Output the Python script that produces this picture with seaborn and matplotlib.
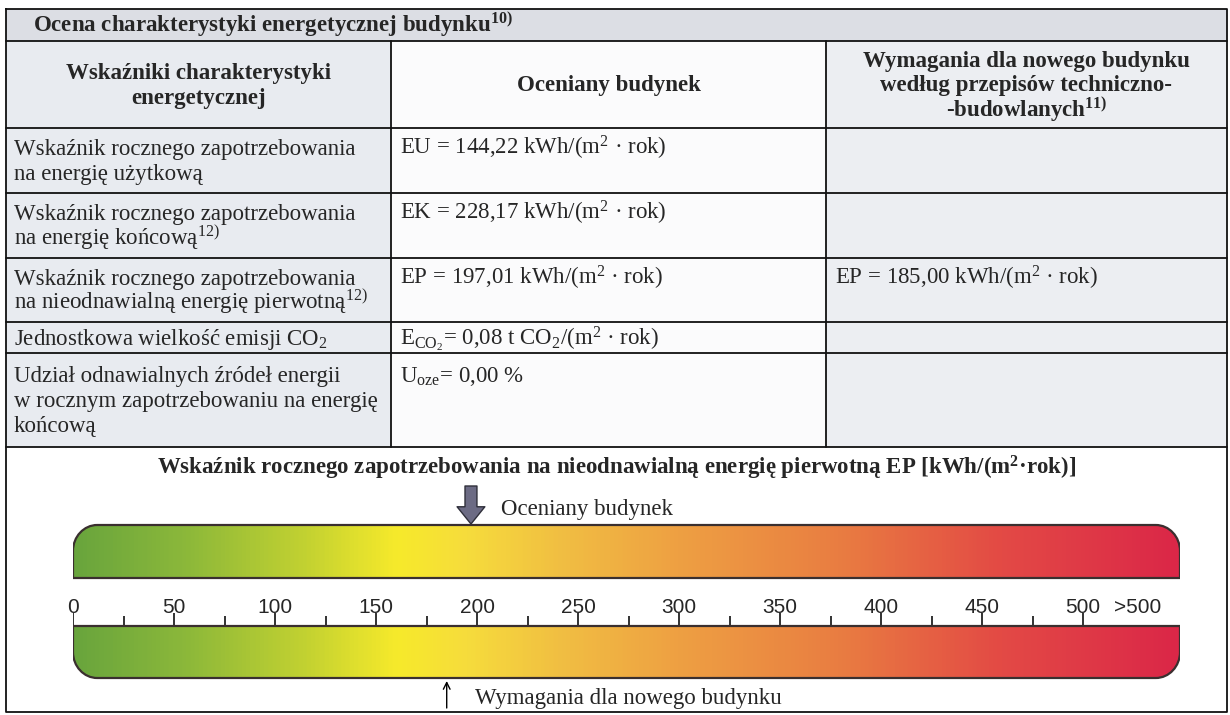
import numpy as np
import matplotlib.pyplot as plt
import seaborn as sns
from matplotlib.colors import LinearSegmentedColormap, Normalize
from matplotlib.path import Path
from matplotlib.patches import PathPatch, Rectangle

sns.set_theme(style="white")
plt.rcParams['font.family'] = ['Liberation Serif', 'DejaVu Serif']
plt.rcParams['mathtext.fontset'] = 'custom'
plt.rcParams['mathtext.rm'] = 'Liberation Serif'
plt.rcParams['mathtext.it'] = 'Liberation Serif:italic'
plt.rcParams['mathtext.bf'] = 'Liberation Serif:bold'

# ---- data ----
ep_assessed = 197.01
ep_required = 185.00
eu_value = 144.22
ek_value = 228.17
eco2_value = 0.08
uoze_value = 0.00

title = r"Ocena charakterystyki energetycznej budynku$^{\mathbf{10)}}$"
headers = ["Wskaźniki charakterystyki\nenergetycznej",
           "Oceniany budynek",
           "Wymagania dla nowego budynku\nwedług przepisów techniczno-\n-budowlanych$^{\\mathbf{11)}}$"]
indicators = ["Wskaźnik rocznego zapotrzebowania\nna energię użytkową",
              "Wskaźnik rocznego zapotrzebowania\nna energię końcową$^{12)}$",
              "Wskaźnik rocznego zapotrzebowania\nna nieodnawialną energię pierwotną$^{12)}$",
              "Jednostkowa wielkość emisji CO$_2$",
              "Udział odnawialnych źródeł energii\nw rocznym zapotrzebowaniu na energię\nkońcową"]


def pl(v):
    return f"{v:.2f}".replace(".", ",")


assessed = [f"EU = {pl(eu_value)} kWh/(m$^2$ · rok)",
            f"EK = {pl(ek_value)} kWh/(m$^2$ · rok)",
            f"EP = {pl(ep_assessed)} kWh/(m$^2$ · rok)",
            f"E$_{{\\mathrm{{CO_2}}}}$= {pl(eco2_value)} t CO$_2$/(m$^2$ · rok)",
            f"U$_{{\\mathrm{{oze}}}}$= {pl(uoze_value)} %"]
required = ["", "", f"EP = {pl(ep_required)} kWh/(m$^2$ · rok)", "", ""]

scale_title = "Wskaźnik rocznego zapotrzebowania na nieodnawialną energię pierwotną EP [kWh/(m$^{\\mathbf{2}}$·rok)]"
major_ticks = [0, 50, 100, 150, 200, 250, 300, 350, 400, 450, 500]
minor_ticks = [25, 75, 125, 175, 225, 275, 325, 375, 425, 475]
over_label = ">500"
over_pos = 527
scale_end = 548
grad_pos = [0, 55, 115, 160, 195, 240, 300, 380, 460, 548]
grad_col = ['#69a53d', '#8cb83a', '#c3d231', '#f7ea2b', '#f6dc3c',
            '#f1bf42', '#eea043', '#e97d41', '#e34a45', '#db2748']

# ---- layout (pixels) ----
W, H = 1230, 715
col_x = [6, 391, 826, 1227]
top, title_bot, head_bot = 9, 41, 128
row_y = [128, 193, 258, 322, 353, 447]
bottom = 712
fs = 16.5
pitch = 25
base_off = 7

fig = plt.figure(figsize=(12.3, 7.15), dpi=100)
ax = fig.add_axes([0, 0, 1, 1])
ax.set_xlim(0, W)
ax.set_ylim(H, 0)
ax.axis('off')

# cell backgrounds
ax.add_patch(Rectangle((col_x[0], top), col_x[3] - col_x[0], title_bot - top, fc='#dcdee4', ec='none'))
bg = ['#e8ebf0', '#fbfbfc', '#eceef2']
for j in range(3):
    ax.add_patch(Rectangle((col_x[j], title_bot), col_x[j + 1] - col_x[j], row_y[-1] - title_bot,
                           fc=bg[j], ec='none'))

lw = 1.3
ax.plot([col_x[0], col_x[3], col_x[3], col_x[0], col_x[0]], [top, top, bottom, bottom, top], color='#111', lw=lw)
for y in [title_bot] + row_y:
    ax.plot([col_x[0], col_x[3]], [y, y], color='#111', lw=lw)
for x in col_x[1:3]:
    ax.plot([x, x], [title_bot, row_y[-1]], color='#111', lw=lw)


def block(x, y_center, s, ha='left', bold=False):
    lines = s.split("\n")
    n = len(lines)
    for k, line in enumerate(lines):
        yc = y_center - (n - 1) / 2 * pitch + k * pitch
        ax.text(x, yc + base_off, line, fontsize=fs, ha=ha, va='baseline',
                fontweight='bold' if bold else 'normal')
    return y_center - (n - 1) / 2 * pitch


ax.text(33, (top + title_bot) / 2 + base_off, title, fontsize=fs, fontweight='bold', va='baseline', ha='left')
for j, h in enumerate(headers):
    block((col_x[j] + col_x[j + 1]) / 2, (title_bot + head_bot) / 2, h, ha='center', bold=True)
for i in range(len(indicators)):
    rc = (row_y[i] + row_y[i + 1]) / 2
    first = block(col_x[0] + 8, rc, indicators[i])
    ax.text(col_x[1] + 9, first + base_off, assessed[i], fontsize=fs, va='baseline', ha='left')
    ax.text(col_x[2] + 9, first + base_off, required[i], fontsize=fs, va='baseline', ha='left')

ax.text((col_x[0] + col_x[3]) / 2, 467 + base_off, scale_title, fontsize=fs, fontweight='bold',
        ha='center', va='baseline')

# ---- scale ----
sx0, sx1 = 73, 1180
axs = fig.add_axes([sx0 / W, 0, (sx1 - sx0) / W, 1])
axs.axis('off')
cmap = LinearSegmentedColormap.from_list('ep', list(zip(np.array(grad_pos) / scale_end, grad_col)))


def bar_path(y0, y1, rx, ry, round_top):
    k = 0.5523
    x0, x1 = 0, scale_end
    if round_top:
        v = [(x0, y1), (x0, y0 + ry), (x0, y0 + ry - k * ry), (x0 + rx - k * rx, y0), (x0 + rx, y0),
             (x1 - rx, y0), (x1 - rx + k * rx, y0), (x1, y0 + ry - k * ry), (x1, y0 + ry), (x1, y1), (x0, y1)]
    else:
        v = [(x0, y0), (x0, y1 - ry), (x0, y1 - ry + k * ry), (x0 + rx - k * rx, y1), (x0 + rx, y1),
             (x1 - rx, y1), (x1 - rx + k * rx, y1), (x1, y1 - ry + k * ry), (x1, y1 - ry), (x1, y0), (x0, y0)]
    c = [Path.MOVETO, Path.LINETO, Path.CURVE4, Path.CURVE4, Path.CURVE4, Path.LINETO,
         Path.CURVE4, Path.CURVE4, Path.CURVE4, Path.LINETO, Path.CLOSEPOLY]
    return Path(v, c)


grad = np.linspace(0, scale_end, 800)[None, :]
for (y0, y1, rt) in [(525, 578, True), (626, 678, False)]:
    patch = PathPatch(bar_path(y0, y1, 12, 26, rt), fc='none', ec='#3a2f2f', lw=1.6, zorder=3)
    axs.add_patch(patch)
    im = axs.imshow(grad, extent=(0, scale_end, y1, y0), aspect='auto', cmap=cmap,
                    norm=Normalize(0, scale_end), zorder=2)
    im.set_clip_path(patch)

num_font = ['Liberation Sans Narrow', 'Liberation Sans']
axs.vlines(major_ticks, 613, 626, color='#222', lw=1.3)
axs.vlines(minor_ticks, 616, 626, color='#222', lw=1.3)
for v in major_ticks:
    axs.text(v, 613, str(v), ha='center', va='baseline', fontsize=15, family=num_font)
axs.text(over_pos, 613, over_label, ha='center', va='baseline', fontsize=15, family=num_font)

axs.annotate("", xy=(ep_assessed, 524), xytext=(ep_assessed, 486),
             arrowprops=dict(arrowstyle="simple,head_length=0.62,head_width=1.0,tail_width=0.43",
                             fc='#6c6b84', ec='#2f2f3a', lw=1, mutation_scale=20, shrinkA=0, shrinkB=0))
axs.text(ep_assessed + 15, 508 + base_off, "Oceniany budynek", fontsize=fs, ha='left', va='baseline')
axs.annotate("", xy=(ep_required, 681), xytext=(ep_required, 708),
             arrowprops=dict(arrowstyle='->', lw=1, color='black', shrinkA=0, shrinkB=0, mutation_scale=12))
axs.text(ep_required + 14, 697 + base_off, "Wymagania dla nowego budynku", fontsize=fs, ha='left', va='baseline')

axs.set_xlim(0, scale_end)
axs.set_ylim(H, 0)

fig.savefig("out.png", dpi=100)
